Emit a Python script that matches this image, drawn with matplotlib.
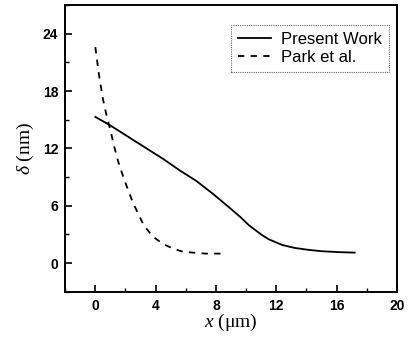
import matplotlib
matplotlib.use('Agg')
import matplotlib.pyplot as plt
from matplotlib.ticker import MultipleLocator

plt.rcParams['mathtext.fontset'] = 'custom'
plt.rcParams['mathtext.it'] = 'Liberation Serif:italic'
plt.rcParams['mathtext.rm'] = 'Liberation Serif'

# boundary layer thickness along x
x_present = [0.0, 1.0, 2.0, 2.5, 3.6, 4.5, 5.6, 6.7, 7.8, 8.9, 9.6, 10.2, 11.0, 11.5, 12.4, 13.2, 14.1, 15.0, 16.2, 17.2]
d_present = [15.3, 14.4, 13.4, 12.9, 11.8, 10.9, 9.7, 8.6, 7.25, 5.8, 4.85, 3.95, 3.0, 2.5, 1.9, 1.6, 1.4, 1.25, 1.15, 1.1]

x_park = [0.0, 0.25, 0.5, 0.75, 1.0, 1.25, 1.5, 1.9, 2.5, 3.2, 3.8, 4.5, 5.2, 5.8, 6.5, 7.3, 8.3]
d_park = [22.6, 19.6, 17.2, 15.4, 13.9, 12.2, 10.7, 8.8, 6.3, 4.0, 2.8, 2.0, 1.5, 1.2, 1.1, 1.0, 1.0]

fig = plt.figure(figsize=(4.10, 3.37), dpi=100)
ax = fig.add_axes([0.159, 0.134, 0.809, 0.851])

ax.plot(x_present, d_present, color='black', lw=1.3, label='Present Work')
ax.plot(x_park, d_park, color='black', lw=1.3, ls=(0, (3.5, 3.5)), label='Park et al.')

ax.set_xlim(-2, 20)
ax.set_ylim(-3, 27)
ax.xaxis.set_major_locator(MultipleLocator(4))
ax.xaxis.set_minor_locator(MultipleLocator(2))
ax.yaxis.set_major_locator(MultipleLocator(6))
ax.yaxis.set_minor_locator(MultipleLocator(3))
ax.tick_params(which='both', direction='in', top=False, right=False)
ax.tick_params(which='major', length=5, width=1.2)
ax.tick_params(which='minor', length=3, width=1.0)
for lab in ax.get_xticklabels() + ax.get_yticklabels():
    lab.set_fontfamily('Liberation Sans')
    lab.set_fontweight('bold')
    lab.set_fontsize(10)
ax.tick_params(axis='x', pad=5)
ax.tick_params(axis='y', pad=5)
for s in ax.spines.values():
    s.set_linewidth(1.4)

ax.set_xlabel('$x$ (μm)', fontfamily='Liberation Serif', fontsize=14, labelpad=-1)
ax.set_ylabel(r'$\delta$ (nm)', fontfamily='Liberation Serif', fontsize=14, labelpad=5)

leg = ax.legend(loc='upper right', bbox_to_anchor=(0.976, 0.93), borderaxespad=0,
                prop={'family': 'Liberation Sans', 'size': 12},
                fancybox=False, edgecolor='0.4', framealpha=1, handlelength=2.0,
                handletextpad=0.6, borderpad=0.4, labelspacing=0.2)
leg.get_frame().set_linestyle((0, (1, 1)))
leg.get_frame().set_linewidth(0.8)

fig.savefig('out.png', dpi=100)
